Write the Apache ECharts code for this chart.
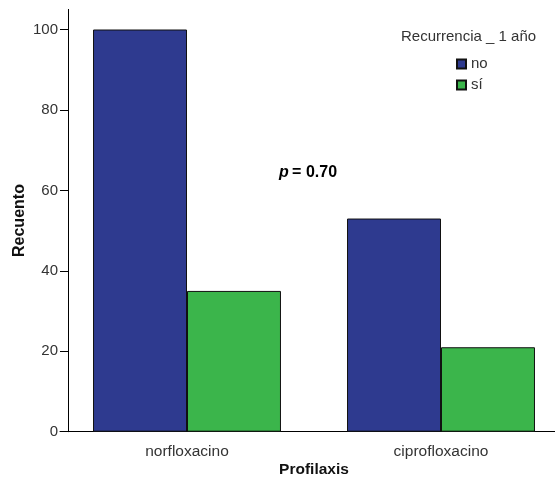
<!DOCTYPE html>
<html>
<head>
<meta charset="utf-8">
<script src="https://cdn.jsdelivr.net/npm/echarts@6/dist/echarts.min.js"></script>
<style>html,body{margin:0;padding:0;background:#fff;overflow:hidden;}#c{width:555px;height:477px;}</style>
</head>
<body>
<div id="c"></div>
<script>
const categories = ['norfloxacino', 'ciprofloxacino'];
const seriesNames = ['no', 'sí'];
const valuesNo = [100, 53];
const valuesSi = [35, 21];
const yTicks = [0, 20, 40, 60, 80, 100];

const chart = echarts.init(document.getElementById('c'), null, {renderer: 'canvas'});
const font = 'Liberation Sans, Arial, sans-serif';
chart.setOption({
  animation: false,
  backgroundColor: '#fff',
  textStyle: {fontFamily: font},
  grid: {left: 60, top: 9.4, width: 508, height: 422.3, containLabel: false, outerBoundsMode: 'none'},
  title: {
    text: 'Recurrencia _ 1 año', left: 396, top: 24,
    textStyle: {fontSize: 15, fontWeight: 'normal', color: '#333', fontFamily: font}
  },
  legend: {
    orient: 'vertical', left: 456, top: 56.5, padding: 0, itemWidth: 9, itemHeight: 9, itemGap: 6,
    icon: 'rect',
    textStyle: {fontSize: 15, color: '#333', fontFamily: font},
    data: seriesNames
  },
  xAxis: {
    type: 'category', data: categories,
    name: 'Profilaxis', nameLocation: 'middle', nameGap: 30, nameMoveOverlap: false,
    nameTextStyle: {fontSize: 15.5, fontWeight: 'bold', color: '#111', fontFamily: font},
    axisLine: {lineStyle: {color: '#000', width: 1}},
    axisTick: {alignWithLabel: true, length: 6, lineStyle: {color: '#000'}},
    axisLabel: {fontSize: 15.5, color: '#333', margin: 12, fontFamily: font}
  },
  yAxis: {
    type: 'value', min: 0, max: 105, interval: 20, offset: -8,
    name: 'Recuento', nameLocation: 'middle', nameGap: 40, nameRotate: 90, nameMoveOverlap: false,
    nameTextStyle: {fontSize: 16, fontWeight: 'bold', color: '#111', fontFamily: font},
    splitLine: {show: false},
    axisLine: {show: true, lineStyle: {color: '#000', width: 1}},
    axisTick: {show: true, length: 8, customValues: yTicks, lineStyle: {color: '#000'}},
    axisLabel: {fontSize: 15, color: '#333', margin: 10, customValues: yTicks, fontFamily: font}
  },
  series: [
    {name: seriesNames[0], type: 'bar', data: valuesNo, barGap: '0%', barCategoryGap: '26%',
     itemStyle: {color: '#2E3A8F', borderColor: '#111', borderWidth: 1}},
    {name: seriesNames[1], type: 'bar', data: valuesSi, barGap: '0%', barCategoryGap: '26%',
     itemStyle: {color: '#3BB54B', borderColor: '#111', borderWidth: 1}}
  ],
  graphic: [{
    type: 'text', left: 279, top: 165,
    style: {
      text: '{p|p} {b|= 0.70}',
      rich: {
        p: {fontSize: 16, fontWeight: 'bold', fontStyle: 'italic', fill: '#000', fontFamily: font},
        b: {fontSize: 16, fontWeight: 'bold', fill: '#000', fontFamily: font}
      }
    }
  }]
});
</script>
</body>
</html>
